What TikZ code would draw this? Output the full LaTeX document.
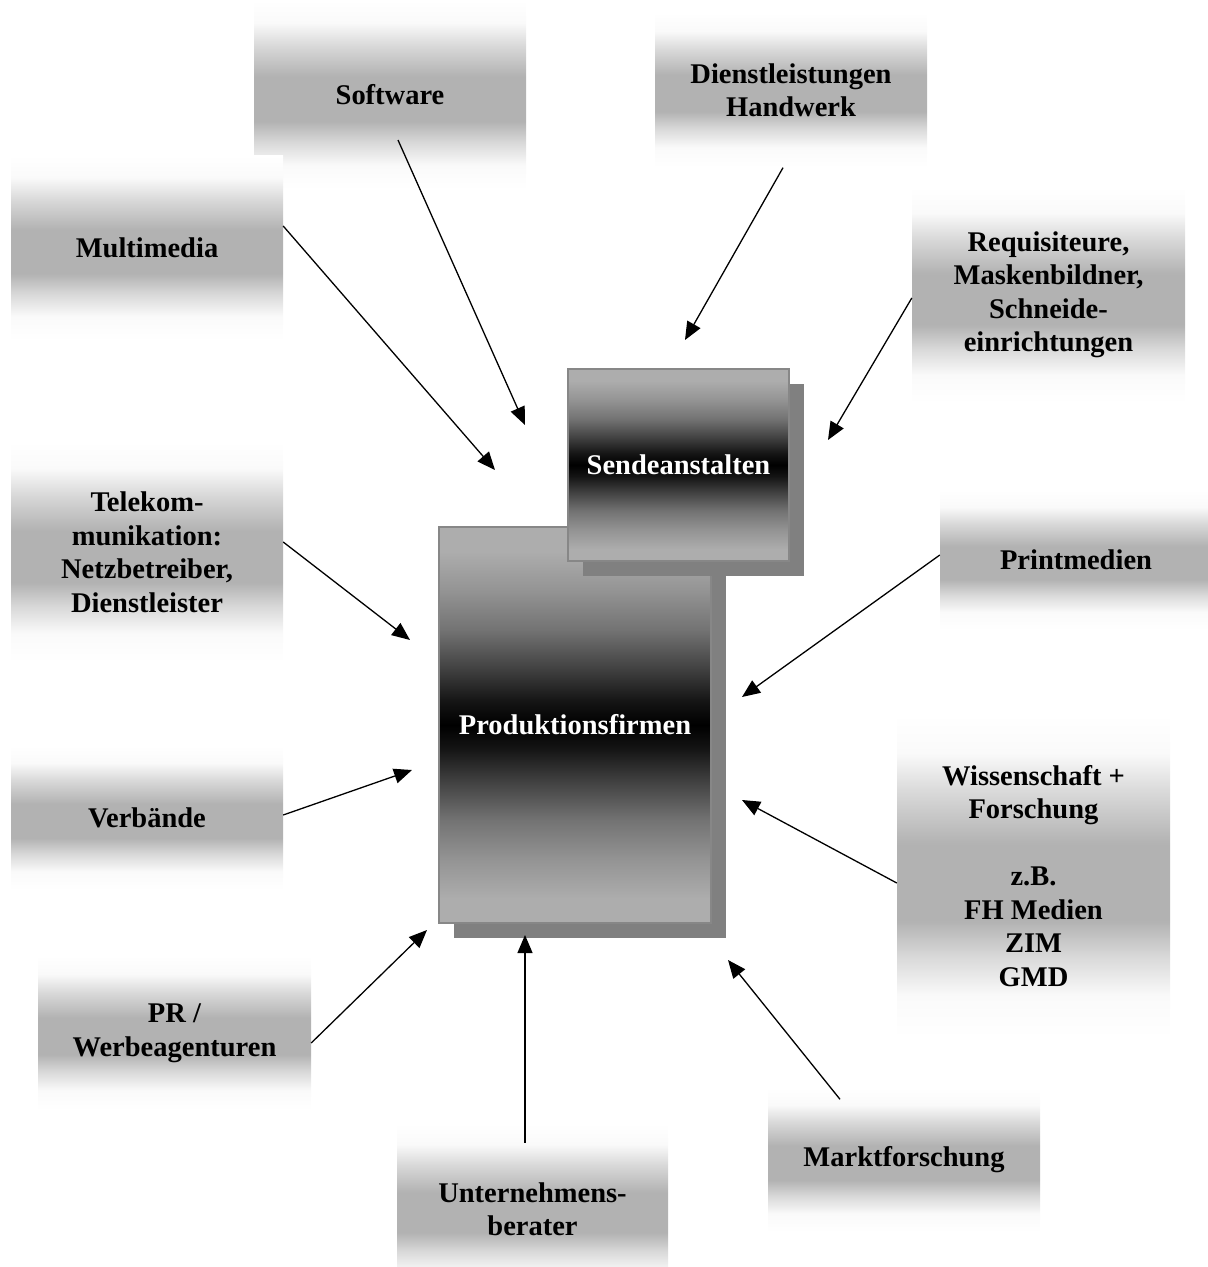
\documentclass[tikz,border=0pt]{standalone}
\usepackage{fontspec}
\setmainfont{Liberation Serif}
\usetikzlibrary{calc,arrows.meta,shadows}
\definecolor{og}{gray}{0.70}
\definecolor{ogm}{gray}{0.85}
\definecolor{ogl}{gray}{0.98}
\definecolor{cgl}{gray}{0.68}
\definecolor{cga}{gray}{0.58}
\definecolor{cgb}{gray}{0.45}
\definecolor{cgc}{gray}{0.25}
\definecolor{cgd}{gray}{0.08}
\definecolor{bordergray}{gray}{0.53}
\definecolor{shadowgray}{gray}{0.50}
\pgfdeclareverticalshading{outershade}{100bp}{color(0bp)=(white); color(25bp)=(white); color(31.5bp)=(ogl); color(37.5bp)=(ogm); color(43bp)=(og); color(55bp)=(og); color(63bp)=(ogm); color(69bp)=(ogl); color(75bp)=(white); color(100bp)=(white)}
\pgfdeclareverticalshading{centershade}{100bp}{color(0bp)=(cgl); color(25bp)=(cgl); color(28bp)=(cgl); color(33bp)=(cga); color(38bp)=(cgb); color(43bp)=(cgc); color(47bp)=(cgd); color(50bp)=(black); color(53bp)=(cgd); color(57bp)=(cgc); color(62bp)=(cgb); color(67bp)=(cga); color(72bp)=(cgl); color(100bp)=(cgl)}
\newcommand{\boxfont}{\fontsize{28.5pt}{33.5pt}\selectfont\bfseries}
\tikzset{
  outerbox/.style={shading=outershade, minimum width=272pt, inner sep=0pt, align=center, font=\boxfont},
  mainbox/.style={shading=centershade, draw=bordergray, line width=2pt, inner sep=0pt, align=center, font=\boxfont, text=white,
    drop shadow={shadow xshift=15pt, shadow yshift=-15pt, fill=shadowgray, opacity=1}},
  arr/.style={-{Triangle[length=18pt,width=15pt]}, line width=1.3pt, black}
}
\begin{document}
\begin{tikzpicture}[x=1pt,y=-1pt]
\useasboundingbox (0,0) rectangle (1208,1267);
\clip (0,0) rectangle (1208,1267);
% outer boxes
\node[outerbox, minimum height=190pt] (soft) at (390,95) {Software};
\node[outerbox, minimum height=155pt] (dienst) at (791,90) {Dienstleistungen\\Handwerk};
\node[outerbox, minimum height=185pt] (mm) at (147,248) {Multimedia};
\node[outerbox, minimum height=216pt, minimum width=273pt] (req) at (1048.5,295) {Requisiteure,\\Maskenbildner,\\Schneide-\\einrichtungen};
\node[outerbox, minimum height=220pt] (tele) at (147,552) {Telekom-\\munikation:\\Netzbetreiber,\\Dienstleister};
\node[outerbox, minimum height=140pt] (print) at (1076,560) {Printmedien};
\node[outerbox, minimum height=145pt] (verb) at (147,818) {Verbände};
\node[outerbox, minimum height=323pt, minimum width=273pt] (wiss) at (1033.5,876) {Wissenschaft +\\Forschung\\\mbox{}\\z.B.\\FH Medien\\ZIM\\GMD};
\node[outerbox, minimum height=155pt, minimum width=273pt] (pr) at (174.5,1033) {PR /\\Werbeagenturen};
\node[outerbox, minimum height=170pt, minimum width=271pt] (unter) at (532.5,1209) {Unternehmens-\\berater};
\node[outerbox, minimum height=145pt] (markt) at (904,1160) {Marktforschung};
% central boxes
\node[mainbox, minimum width=272pt, minimum height=396pt] (prod) at (575,725) {Produktionsfirmen};
\node[mainbox, minimum width=221pt, minimum height=192pt] (sende) at (678.5,465) {Sendeanstalten};
% arrow targets
\coordinate (t1) at (525,425);
\coordinate (t2) at (495,470);
\coordinate (t3) at (685,340);
\coordinate (t4) at (828,440);
\coordinate (t5) at (410,640);
\coordinate (t6) at (742,697);
\coordinate (t7) at (412,770);
\coordinate (t8) at (742,800);
\coordinate (t9) at (427,930);
\coordinate (t10) at (525,935);
\coordinate (t11) at (728,960);
% arrows
\draw[arr] ($(soft.center)+(8,45)$) -- (t1);
\draw[arr] ($(mm.east)+(0,-22)$) -- (t2);
\draw[arr] ($(dienst.south)+(-8,0)$) -- (t3);
\draw[arr] ($(req.west)+(0,3)$) -- (t4);
\draw[arr] ($(tele.east)+(0,-10)$) -- (t5);
\draw[arr] ($(print.west)+(0,-5)$) -- (t6);
\draw[arr] ($(verb.east)+(0,-3)$) -- (t7);
\draw[arr] ($(wiss.west)+(0,7)$) -- (t8);
\draw[arr] ($(pr.east)+(0,10)$) -- (t9);
\draw[arr] ($(unter.north)+(-7.5,19)$) -- (t10);
\draw[arr] ($(markt.north)+(-64,12)$) -- (t11);
\end{tikzpicture}
\end{document}
